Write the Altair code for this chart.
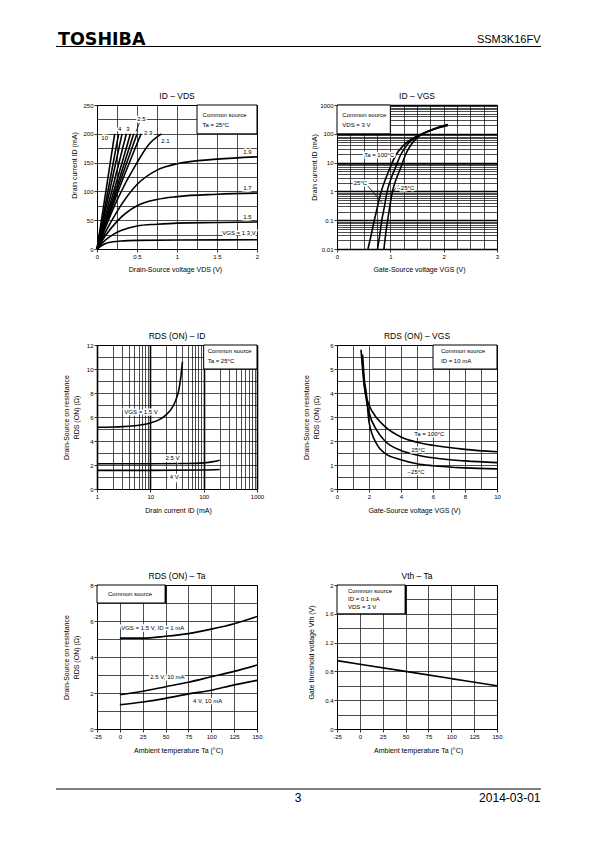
import json
import altair as alt
import pandas as pd

FONT = "Liberation Sans"
W, H = 160, 144

# ---------------- Chart 1 : ID - VDS ----------------
c1_names = ["10", "6", "4", "3.5", "3", "2.7", "2.5", "2.3", "2.1", "1.9", "1.7", "1.5", "1.3"]
c1_vds = [
    [0, 0.221], [0, 0.271], [0, 0.313], [0, 0.367], [0, 0.418], [0, 0.459],
    [0, 0.25, 0.501], [0, 0.25, 0.551],
    [0, 0.25, 0.5, 0.65, 0.806],
    [0, 0.1, 0.25, 0.5, 0.75, 1.0, 1.5, 2.0],
    [0, 0.1, 0.25, 0.5, 0.75, 1.0, 1.5, 2.0],
    [0, 0.1, 0.2, 0.3, 0.5, 0.75, 1.0, 1.5, 2.0],
    [0, 0.05, 0.1, 0.2, 0.3, 0.5, 1.0, 2.0],
]
c1_id = [
    [0, 200], [0, 200], [0, 200], [0, 200], [0, 200], [0, 200],
    [0, 102, 200], [0, 95, 200],
    [0, 85, 150, 182, 200],
    [0, 28, 65, 112, 137, 148, 156, 160],
    [0, 22, 48, 75, 86, 91, 95, 97],
    [0, 15, 25, 32, 40, 43, 45, 46, 47],
    [0, 5, 9, 12.5, 14, 15, 15.5, 16],
]
c1_lab_t = ["10", "4", "3", "2.5", "2.3", "2.1", "1.9", "1.7", "1.5", "VGS = 1.3 V"]
c1_lab_x = [0.096, 0.284, 0.388, 0.555, 0.639, 0.856, 1.88, 1.88, 1.88, 1.775]
c1_lab_y = [192, 209, 209, 226, 202, 188, 169, 106, 56, 28]
c1_box = [1.25, 2.0, 200, 250]
c1_box_t = ["Common source", "Ta = 25°C"]
c1_box_x = [1.32, 1.32]
c1_box_y = [232, 216]
c1_ptr = [[0.53, 219, 0.49, 204]]

# ---------------- Chart 2 : ID - VGS ----------------
c2_names = ["Ta = 100°C", "25°C", "-25°C"]
c2_vgs = [
    [0.58, 0.64, 0.70, 0.76, 0.83, 0.92, 1.0, 1.1, 1.25, 1.45, 1.65, 1.85, 2.08],
    [0.76, 0.80, 0.84, 0.89, 0.94, 1.02, 1.1, 1.19, 1.33, 1.5, 1.7, 1.9, 2.08],
    [0.88, 0.91, 0.95, 0.99, 1.04, 1.12, 1.2, 1.28, 1.4, 1.55, 1.72, 1.9, 2.08],
]
c2_id = [
    [0.01, 0.03, 0.1, 0.3, 1, 3, 7, 18, 40, 75, 110, 150, 195],
    [0.01, 0.03, 0.1, 0.3, 1, 3, 7, 18, 45, 80, 120, 165, 205],
    [0.01, 0.03, 0.1, 0.3, 1, 3, 7, 18, 45, 85, 125, 170, 210],
]
c2_lab_t = ["Ta = 100°C", "25°C", "\u221225°C"]
c2_lab_x = [0.79, 0.44, 1.29]
c2_lab_y = [18, 1.9, 1.35]
c2_box = [0, 1, 100, 1000]
c2_box_t = ["Common source", "VDS = 3 V"]
c2_box_x = [0.1, 0.1]
c2_box_y = [437, 197]
c2_ptr = [[0.575, 1.55, 0.85, 0.4], [1.15, 1.64, 1.04, 0.95]]

# ---------------- Chart 3 : RDS(ON) - ID ----------------
c3_names = ["1.5 V", "2.5 V", "4 V"]
c3_id = [
    [1, 2, 3, 5, 7, 10, 15, 20, 25, 30, 34, 37, 40],
    [1, 10, 50, 100, 150, 200],
    [1, 10, 100, 200],
]
c3_r = [
    [5.15, 5.17, 5.2, 5.27, 5.35, 5.5, 5.8, 6.2, 6.7, 7.4, 8.2, 9.2, 10.6],
    [2.1, 2.1, 2.12, 2.18, 2.28, 2.4],
    [1.55, 1.55, 1.58, 1.62],
]
c3_lab_t = ["VGS = 1.5 V", "2.5 V", "4 V"]
c3_lab_x = [6.7, 26, 28]
c3_lab_y = [6.42, 2.61, 1.03]
c3_box = [100, 1000, 10, 12]
c3_box_t = ["Common source", "Ta = 25°C"]
c3_box_x = [119, 119]
c3_box_y = [11.5, 10.67]

# ---------------- Chart 4 : RDS(ON) - VGS ----------------
c4_names = ["100", "25", "-25"]
c4_vgs = [
    [1.5, 1.6, 1.7, 1.85, 2, 2.5, 3, 4, 5, 6, 8, 10],
    [1.55, 1.65, 1.77, 2, 2.5, 3, 4, 5, 6, 8, 10],
    [1.6, 1.7, 1.83, 2, 2.5, 3, 4, 5, 6, 8, 10],
]
c4_r = [
    [5.8, 5.0, 4.3, 3.8, 3.5, 2.95, 2.6, 2.17, 1.95, 1.82, 1.65, 1.55],
    [5.6, 4.8, 4.0, 3.2, 2.43, 2.0, 1.6, 1.42, 1.3, 1.17, 1.1],
    [5.6, 4.6, 4.0, 2.8, 1.85, 1.48, 1.22, 1.05, 0.97, 0.88, 0.84],
]
c4_lab_t = ["Ta = 100°C", "25°C", "\u221225°C"]
c4_lab_x = [5.77, 5.08, 4.94]
c4_lab_y = [2.28, 1.63, 0.72]
c4_box = [6, 10, 5, 6]
c4_box_t = ["Common source", "ID = 10 mA"]
c4_box_x = [6.5, 6.5]
c4_box_y = [5.75, 5.33]

# ---------------- Chart 5 : RDS(ON) - Ta ----------------
c5_names = ["1.5 V, 1 mA", "2.5 V, 10 mA", "4 V, 10 mA"]
c5_ta = [
    [0, 25, 50, 75, 100, 125, 150],
    [0, 25, 50, 75, 100, 125, 150],
    [0, 25, 50, 75, 100, 125, 150],
]
c5_r = [
    [5.05, 5.05, 5.15, 5.3, 5.55, 5.85, 6.25],
    [1.9, 2.1, 2.35, 2.6, 2.9, 3.2, 3.55],
    [1.35, 1.5, 1.7, 1.95, 2.15, 2.45, 2.7],
]
c5_lab_t = ["VGS = 1.5 V, ID = 1 mA", "2.5 V, 10 mA", "4 V, 10 mA"]
c5_lab_x = [36, 52, 96]
c5_lab_y = [5.63, 2.9, 1.57]
c5_box = [-25, 50, 7, 8]
c5_box_t = ["Common source"]
c5_box_x = [-13]
c5_box_y = [7.5]

# ---------------- Chart 6 : Vth - Ta ----------------
c6_names = ["Vth"]
c6_ta = [[-25, 0, 50, 100, 150]]
c6_v = [[0.95, 0.9, 0.8, 0.7, 0.6]]
c6_box = [-25, 50, 1.6, 2.0]
c6_box_t = ["Common source", "ID = 0.1 mA", "VDS = 3 V"]
c6_box_x = [-13, -13, -13]
c6_box_y = [1.92, 1.81, 1.70]


# ---------------- helpers ----------------
def rnd(v):
    return round(v, 10)


def axis(title, values, labels, tx, ty, decades=None):
    t = "indexof(%s, datum.value) >= 0" % json.dumps(labels)
    kw = dict(
        values=values, labelExpr=t + " ? '' + datum.value : ''",
        tickOpacity={"condition": {"test": t, "value": 1}, "value": 0},
        title=title, titleX=tx, titleY=ty, titleBaseline="middle", titleAlign="center",
        titleFontWeight="normal", titleFont=FONT, titleFontSize=7,
        labelFlush=False, labelOverlap=False,
    )
    if decades:
        d = "indexof(%s, datum.value) >= 0" % json.dumps(decades)
        kw["gridWidth"] = {"condition": {"test": d, "value": 1.6}, "value": 0.7}
    return alt.Axis(**kw)


def curves(names, xs, ys):
    rows = []
    for n, xa, ya in zip(names, xs, ys):
        for i, (a, b) in enumerate(zip(xa, ya)):
            rows.append({"s": n, "i": i, "x": a, "y": b})
    return pd.DataFrame(rows)


def panel(X, Y, cdf, box, bt, bx, by, title, lt=None, lx=None, ly=None,
          ptr=None, thick=None, extra=()):
    layers = []
    bdf = pd.DataFrame({"x": [box[0]], "x2": [box[1]], "y": [box[2]], "y2": [box[3]]})
    layers.append(alt.Chart(bdf).mark_rect(fill="white", stroke="black", strokeWidth=1)
                  .encode(x=X, x2=alt.X2("x2"), y=Y, y2=alt.Y2("y2")))
    if thick is not None:
        tdf = pd.DataFrame({"x": [thick[0]], "y": [thick[1]], "y2": [thick[2]]})
        layers.append(alt.Chart(tdf).mark_rule(color="black", strokeWidth=2)
                      .encode(x=X, y=Y, y2=alt.Y2("y2")))
    layers.append(alt.Chart(cdf).mark_line(color="black", strokeWidth=1.6, interpolate="monotone")
                  .encode(x=X, y=Y, detail="s:N", order="i:Q"))
    if ptr:
        pdf = pd.DataFrame(ptr, columns=["x", "y", "x2", "y2"])
        layers.append(alt.Chart(pdf).mark_rule(color="black", strokeWidth=0.8)
                      .encode(x=X, y=Y, x2=alt.X2("x2"), y2=alt.Y2("y2")))
    if lt:
        ldf = pd.DataFrame({"t": lt, "x": lx, "y": ly})
        layers.append(alt.Chart(ldf).mark_text(font=FONT, fontSize=6, stroke="white", strokeWidth=3,
                                               color="white", align="center", baseline="middle")
                      .encode(x=X, y=Y, text="t:N"))
        layers.append(alt.Chart(ldf).mark_text(font=FONT, fontSize=6, color="black",
                                               align="center", baseline="middle")
                      .encode(x=X, y=Y, text="t:N"))
    btdf = pd.DataFrame({"t": bt, "x": bx, "y": by})
    layers.append(alt.Chart(btdf).mark_text(font=FONT, fontSize=6, color="black",
                                            align="left", baseline="middle")
                  .encode(x=X, y=Y, text="t:N"))
    layers.append(alt.Chart(pd.DataFrame({"t": [title]})).mark_text(
        font=FONT, fontSize=8.5, color="black", align="center", baseline="middle")
        .encode(x=alt.value(80), y=alt.value(-9), text="t:N"))
    layers.extend(extra)
    return alt.layer(*layers).properties(width=W, height=H)


def sc(dom, typ="linear"):
    return alt.Scale(type=typ, domain=dom, nice=False, zero=False)


# ---------------- header / footer (page decoration, in panel-1 pixels) ----------------
extra1 = [
    alt.Chart(pd.DataFrame({"a": [0]})).mark_rule(color="white", strokeWidth=1)
    .encode(x=alt.value(-87.5), x2=alt.value(-86), y=alt.value(-95.5)),
    alt.Chart(pd.DataFrame({"a": [0]})).mark_rule(color="black", strokeWidth=1)
    .encode(x=alt.value(-41), x2=alt.value(444), y=alt.value(-58.5)),
    alt.Chart(pd.DataFrame({"a": [0]})).mark_rule(color="black", strokeWidth=1)
    .encode(x=alt.value(-41), x2=alt.value(444), y=alt.value(684)),
    alt.Chart(pd.DataFrame({"t": ["TOSHIBA"]})).mark_text(
        font="DejaVu Sans", fontWeight="bold", fontSize=17.5, color="black",
        align="left", baseline="alphabetic")
    .encode(x=alt.value(-39), y=alt.value(-60.5), text="t:N"),
    alt.Chart(pd.DataFrame({"t": ["SSM3K16FV"]})).mark_text(
        font=FONT, fontSize=11, color="black", align="right", baseline="alphabetic")
    .encode(x=alt.value(443.5), y=alt.value(-62), text="t:N"),
    alt.Chart(pd.DataFrame({"t": ["3"]})).mark_text(
        font=FONT, fontSize=12, color="black", align="center", baseline="alphabetic")
    .encode(x=alt.value(201), y=alt.value(697), text="t:N"),
    alt.Chart(pd.DataFrame({"t": ["2014-03-01"]})).mark_text(
        font=FONT, fontSize=12, color="black", align="right", baseline="alphabetic")
    .encode(x=alt.value(443.5), y=alt.value(697), text="t:N"),
]

RDS_T = ["Drain-Source on resistance", "RDS (ON)   (\u03a9)"]

# chart 1
X1 = alt.X("x:Q", scale=sc([0, 2]),
           axis=axis("Drain-Source voltage   VDS   (V)", [rnd(i * 0.25) for i in range(9)],
                     [0, 0.5, 1, 1.5, 2], 78, 20.5))
Y1 = alt.Y("y:Q", scale=sc([0, 250]),
           axis=axis("Drain current   ID   (mA)", [i * 25 for i in range(11)],
                     [0, 50, 100, 150, 200, 250], -23, 60))
p1 = panel(X1, Y1, curves(c1_names, c1_vds, c1_id), c1_box, c1_box_t, c1_box_x, c1_box_y,
           "ID \u2013 VDS", c1_lab_t, c1_lab_x, c1_lab_y, ptr=c1_ptr, extra=extra1)

# chart 2
dec2 = [0.01, 0.1, 1, 10, 100, 1000]
grid2 = [rnd(d * k) for d in [0.01, 0.1, 1, 10, 100] for k in range(1, 10)] + [1000]
X2 = alt.X("x:Q", scale=sc([0, 3]),
           axis=axis("Gate-Source voltage   VGS   (V)", [rnd(i * 0.25) for i in range(13)],
                     [0, 1, 2, 3], 82, 20.5))
Y2 = alt.Y("y:Q", scale=sc([0.01, 1000], "log"),
           axis=axis("Drain current   ID   (mA)", grid2, dec2, -23, 62, decades=dec2))
p2 = panel(X2, Y2, curves(c2_names, c2_vgs, c2_id), c2_box, c2_box_t, c2_box_x, c2_box_y,
           "ID \u2013 VGS", c2_lab_t, c2_lab_x, c2_lab_y, ptr=c2_ptr)

# chart 3
dec3 = [1, 10, 100, 1000]
grid3 = [rnd(d * k) for d in [1, 10, 100] for k in range(1, 10)] + [1000]
X3 = alt.X("x:Q", scale=sc([1, 1000], "log"),
           axis=axis("Drain current   ID   (mA)", grid3, dec3, 81, 21, decades=dec3))
Y3 = alt.Y("y:Q", scale=sc([0, 12]),
           axis=axis(RDS_T, list(range(13)), [0, 2, 4, 6, 8, 10, 12], -31, 72))
p3 = panel(X3, Y3, curves(c3_names, c3_id, c3_r), c3_box, c3_box_t, c3_box_x, c3_box_y,
           "RDS (ON) \u2013 ID", c3_lab_t, c3_lab_x, c3_lab_y)

# chart 4
X4 = alt.X("x:Q", scale=sc([0, 10]),
           axis=axis("Gate-Source voltage   VGS   (V)", list(range(11)),
                     [0, 2, 4, 6, 8, 10], 77, 21))
Y4 = alt.Y("y:Q", scale=sc([0, 6]),
           axis=axis(RDS_T, [rnd(i * 0.5) for i in range(13)], [0, 1, 2, 3, 4, 5, 6], -31, 72))
p4 = panel(X4, Y4, curves(c4_names, c4_vgs, c4_r), c4_box, c4_box_t, c4_box_x, c4_box_y,
           "RDS (ON) \u2013 VGS", c4_lab_t, c4_lab_x, c4_lab_y)

# chart 5
ta_vals = [-25, 0, 25, 50, 75, 100, 125, 150]
X5 = alt.X("x:Q", scale=sc([-25, 150]),
           axis=axis("Ambient temperature   Ta   (\u00b0C)", ta_vals, ta_vals, 81, 21))
Y5 = alt.Y("y:Q", scale=sc([0, 8]),
           axis=axis(RDS_T, list(range(9)), [0, 2, 4, 6, 8], -31, 72))
p5 = panel(X5, Y5, curves(c5_names, c5_ta, c5_r), c5_box, c5_box_t, c5_box_x, c5_box_y,
           "RDS (ON) \u2013 Ta", c5_lab_t, c5_lab_x, c5_lab_y, thick=[50, 7, 8])

# chart 6
X6 = alt.X("x:Q", scale=sc([-25, 150]),
           axis=axis("Ambient temperature   Ta   (\u00b0C)", ta_vals, ta_vals, 81, 21))
Y6 = alt.Y("y:Q", scale=sc([0, 2]),
           axis=axis("Gate threshold voltage   Vth   (V)", [rnd(i * 0.2) for i in range(11)],
                     [0, 0.4, 0.8, 1.2, 1.6, 2], -26, 67))
p6 = panel(X6, Y6, curves(c6_names, c6_ta, c6_v), c6_box, c6_box_t, c6_box_x, c6_box_y,
           "Vth \u2013 Ta", thick=[50, 1.6, 2.0])

chart = alt.concat(
    p1, p2, p3, p4, p5, p6, columns=2,
    spacing={"row": 96, "column": 80}, bounds="flush",
).properties(padding=0).configure_view(
    stroke="black", strokeWidth=1
).configure_axis(
    grid=True, gridColor="black", gridOpacity=1, gridWidth=0.7,
    domainColor="black", domainWidth=1, tickColor="black", tickSize=3, tickWidth=0.8,
    labelFont=FONT, labelFontSize=6, labelColor="black", labelPadding=1,
    titleFont=FONT, titleFontSize=7, titleFontWeight="normal", titleColor="black",
    titleLineHeight=10,
)

chart.save("out.html", embed_options={"renderer": "svg", "actions": False})
